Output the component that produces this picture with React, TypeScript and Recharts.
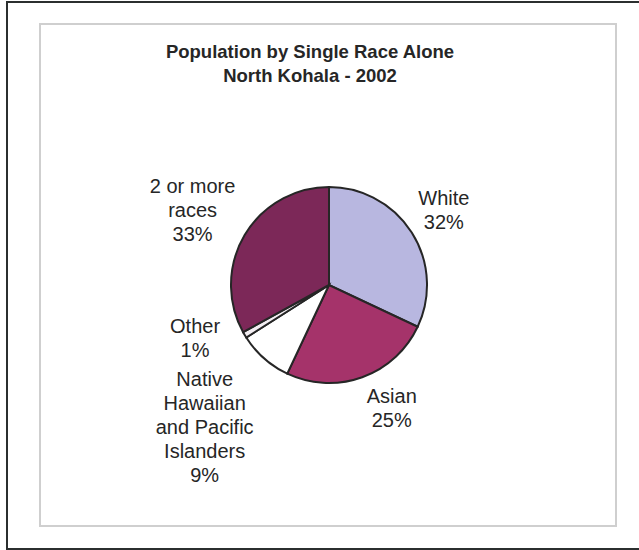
import { PieChart, Pie, Cell } from "recharts";

// Population by single race alone, North Kohala, 2002 (percent of total)
const races = [
  "White",
  "Asian",
  "Native\nHawaiian\nand Pacific\nIslanders",
  "Other",
  "2 or more\nraces",
];
const shares = [32, 25, 9, 1, 33];
const sliceColors = ["#b8b7e0", "#a5336a", "#ffffff", "#f3eef2", "#7c2858"];

const data = races.map((name, i) => ({ name, value: shares[i] }));

// label placement: distance from centre plus a small nudge, keyed by slice index
const labelPlace = [
  { r: 136, dx: 0, dy: -2 },
  { r: 138, dx: 16, dy: -7 },
  { r: 188, dx: 0, dy: 1 },
  { r: 144, dx: -10, dy: -20 },
  { r: 155, dx: -3, dy: 4 },
];

const RAD = Math.PI / 180;
const LINE_H = 24;

function renderLabel(props: any) {
  const { cx, cy, midAngle, percent, index, name } = props;
  const p = labelPlace[index];
  const x = cx + p.r * Math.cos(-midAngle * RAD) + p.dx;
  const y = cy + p.r * Math.sin(-midAngle * RAD) + p.dy;
  const lines = [...String(name).split("\n"), `${Math.round(percent * 100)}%`];
  const top = y - ((lines.length - 1) * LINE_H) / 2;
  return (
    <text
      key={`lbl-${index}`}
      x={x}
      y={top}
      textAnchor="middle"
      fill="#262626"
      fontSize={20}
      fontFamily="'Liberation Sans', Arial, sans-serif"
    >
      {lines.map((ln, i) => (
        <tspan key={i} x={x} y={top + i * LINE_H} dominantBaseline="central">
          {ln}
        </tspan>
      ))}
    </text>
  );
}

export default function App() {
  return (
    <div
      style={{
        position: "absolute",
        left: 0,
        top: 0,
        width: 639,
        height: 550,
        background: "#fff",
        overflow: "hidden",
        fontFamily: "'Liberation Sans', Arial, sans-serif",
      }}
    >
      {/* outer frame */}
      <div
        style={{
          position: "absolute",
          left: 6,
          top: 1,
          width: 660,
          height: 545,
          border: "2px solid #2b2f2f",
        }}
      />
      {/* chart area frame */}
      <div
        style={{
          position: "absolute",
          left: 39,
          top: 23,
          width: 574,
          height: 500,
          border: "2px solid #cfcfcf",
        }}
      />
      <div
        style={{
          position: "absolute",
          left: 0,
          top: 40,
          width: 620,
          textAlign: "center",
          fontWeight: "bold",
          fontSize: 18.5,
          lineHeight: "24px",
          color: "#262626",
        }}
      >
        Population by Single Race Alone
        <br />
        North Kohala - 2002
      </div>
      <div style={{ position: "absolute", left: 0, top: 0 }}>
        <PieChart width={639} height={550}>
          <Pie
            data={data}
            dataKey="value"
            nameKey="name"
            cx={324}
            cy={280}
            outerRadius={98}
            startAngle={90}
            endAngle={-270}
            stroke="#262626"
            strokeWidth={2}
            labelLine={false}
            label={renderLabel}
            isAnimationActive={false}
          >
            {data.map((d, i) => (
              <Cell key={d.name} fill={sliceColors[i]} />
            ))}
          </Pie>
        </PieChart>
      </div>
    </div>
  );
}
